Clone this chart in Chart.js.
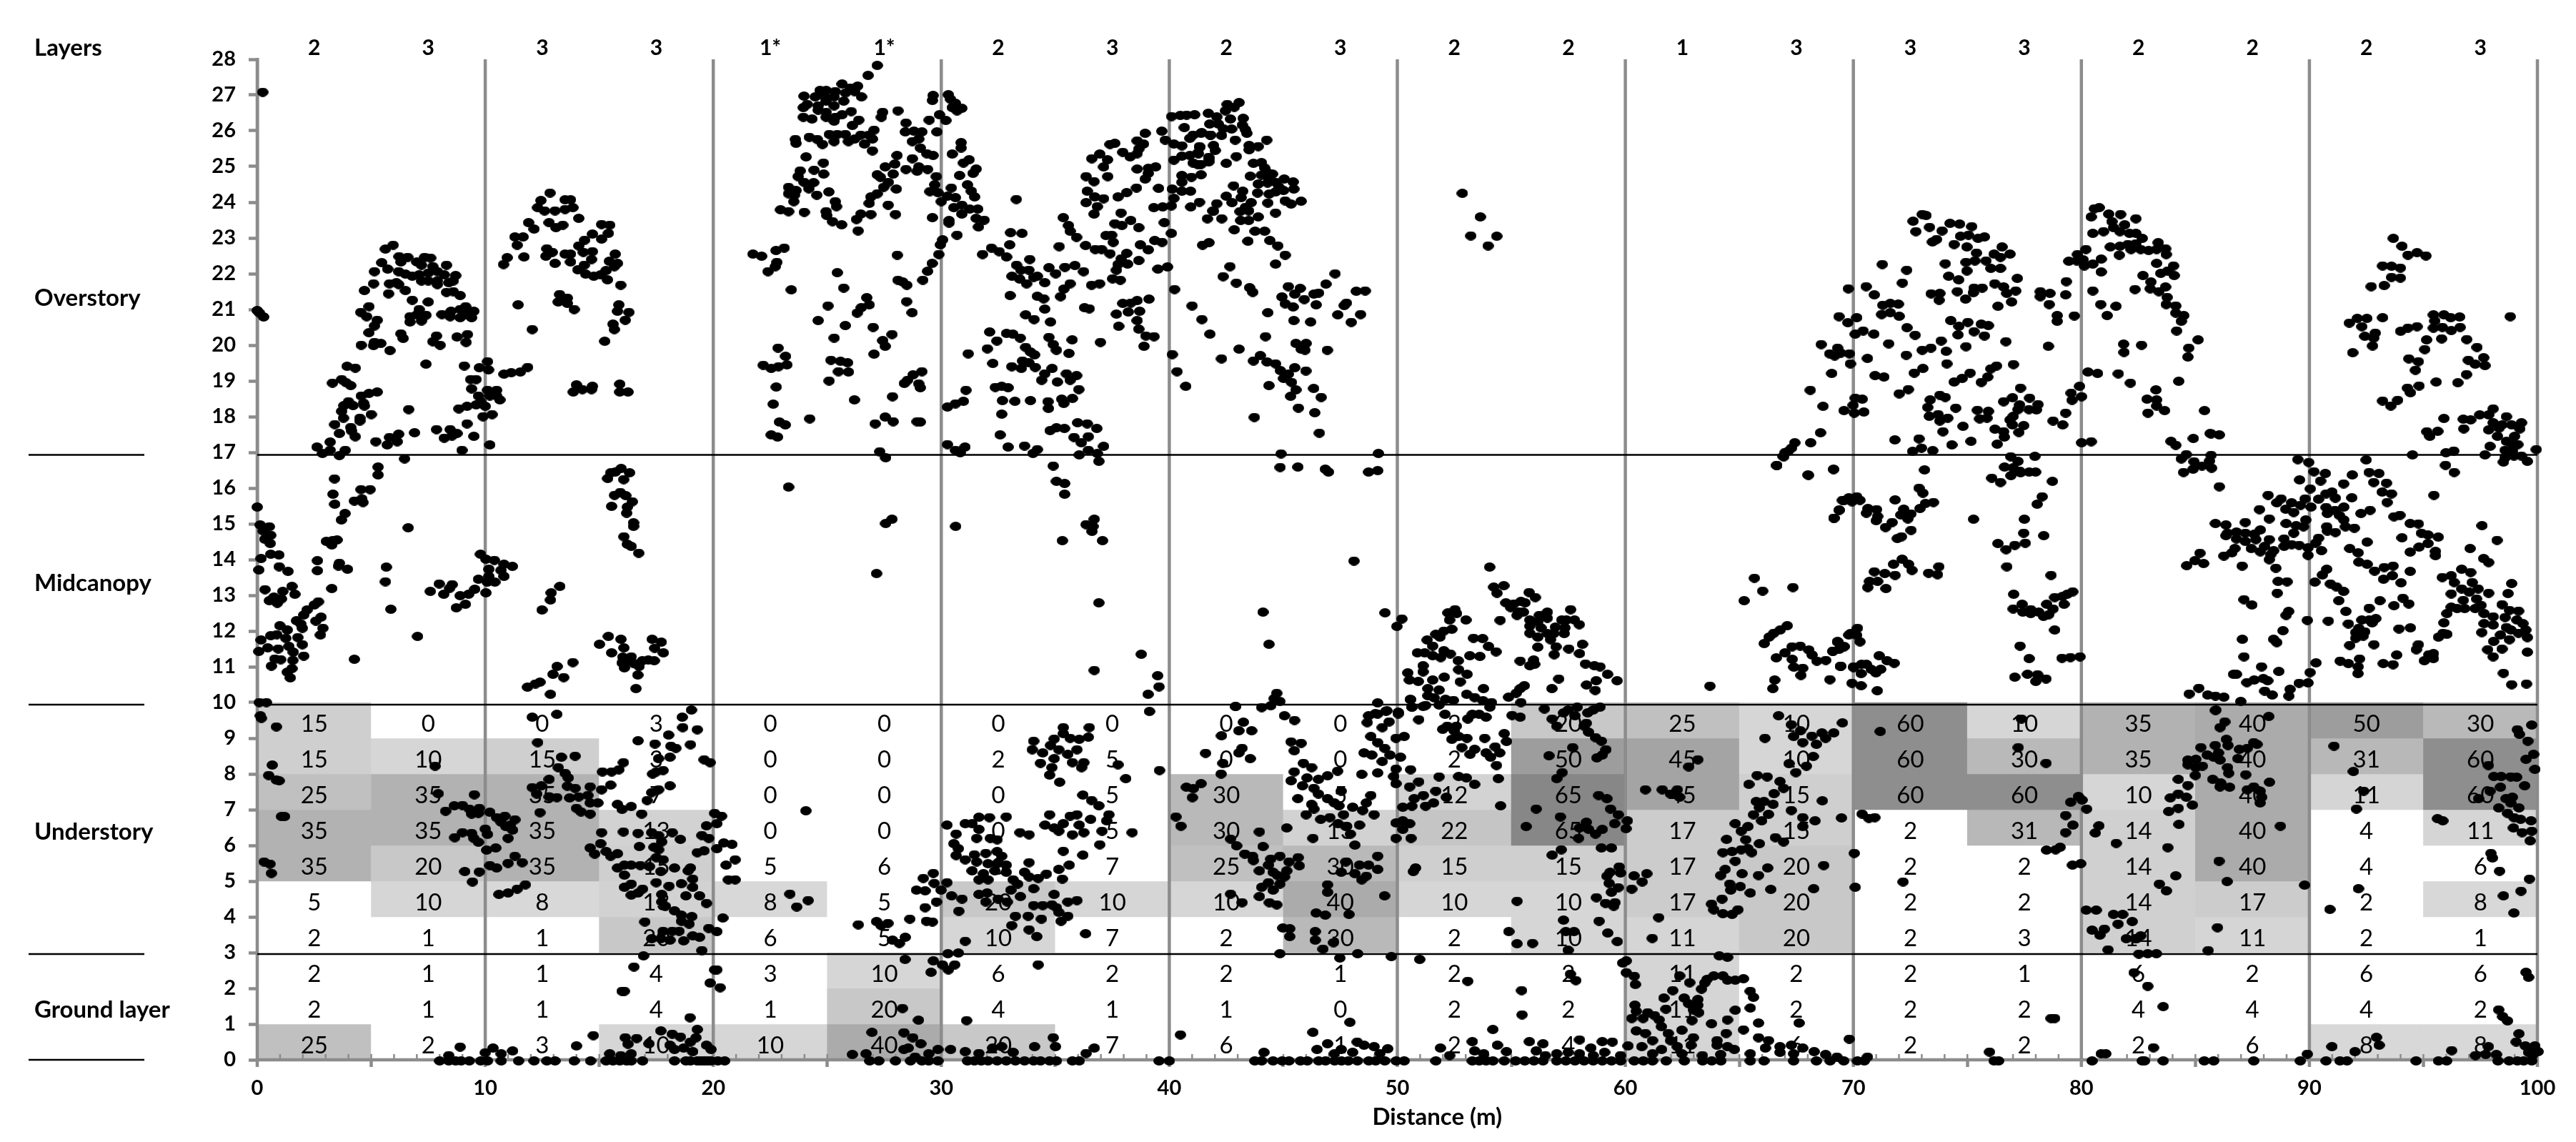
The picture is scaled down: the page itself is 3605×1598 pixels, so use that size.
<!DOCTYPE html>
<html lang="en">
<head>
<meta charset="UTF-8">
<title>Vegetation layers along a 100 m transect</title>
<style>
body { margin: 0; background: white; }
canvas { display: block; }
</style>
</head>
<body>
<canvas id="chart" width="3605" height="1598"></canvas>
<script src="https://cdn.jsdelivr.net/npm/chart.js"></script>
<script>
// layers per 5 m segment, shown along the top
const layerCounts = ['2','3','3','3','1*','1*','2','3','2','3','2','2','1','3','3','3','2','2','2','3'];
const xTicks = [0,10,20,30,40,50,60,70,80,90,100];
const segmentCentres = [2.5,7.5,12.5,17.5,22.5,27.5,32.5,37.5,42.5,47.5,52.5,57.5,62.5,67.5,72.5,77.5,82.5,87.5,92.5,97.5];
const groupNames = ['Overstory','Midcanopy','Understory','Ground layer'];
const groupHeights = [21.32,13.34,6.38,1.4];
const layerBounds = [16.93,9.94,2.96];

// cover per 1 m height class, one row per class, top class first
const cover9to10 = [15,0,0,3,0,0,0,0,0,0,2,20,25,10,60,10,35,40,50,30];
const cover8to9 = [15,10,15,3,0,0,2,5,0,0,2,50,45,10,60,30,35,40,31,60];
const cover7to8 = [25,35,35,7,0,0,0,5,30,5,12,65,45,15,60,60,10,40,11,60];
const cover6to7 = [35,35,35,13,0,0,0,5,30,13,22,65,17,15,2,31,14,40,4,11];
const cover5to6 = [35,20,35,15,5,6,0,7,25,30,15,15,17,20,2,2,14,40,4,6];
const cover4to5 = [5,10,8,13,8,5,20,10,10,40,10,10,17,20,2,2,14,17,2,8];
const cover3to4 = [2,1,1,20,6,5,10,7,2,30,2,10,11,20,2,3,14,11,2,1];
const cover2to3 = [2,1,1,4,3,10,6,2,2,1,2,2,11,2,2,1,6,2,6,6];
const cover1to2 = [2,1,1,4,1,20,4,1,1,0,2,2,11,2,2,2,4,4,4,2];
const cover0to1 = [25,2,3,10,10,40,20,7,6,1,2,4,11,6,2,2,2,6,8,8];
const coverRows = [cover9to10,cover8to9,cover7to8,cover6to7,cover5to6,cover4to5,cover3to4,cover2to3,cover1to2,cover0to1];

// lidar returns as distance,height pairs
const over0to20 = [.24,27.08,0,20.97,.1,20.9,.28,20.79,5.96,22.8,5.62,22.69,5.46,22.31,5.72,22.13,5.14,22.06,6.22,22.48,6.6,22.46,6.3,22.33,7.34,22.46,7.6,22.44,7.2,22.24,7,22.33,7.7,22.2,8.3,22.24,6.2,22.06,6.5,21.99,6.8,21.93,7.1,21.97,7.5,22.02,7.9,22.06,8.2,21.97,8.7,21.95,7.9,21.8,8.4,21.75,8.6,21.8,7.2,21.8,7.5,21.8,7.9,21.7,6.1,21.75,5.8,21.72,6.2,21.7,5.1,21.72,4.7,21.53,5.76,21.44,6.5,21.53,8.3,21.48,8.6,21.5,8.9,21.39,6.8,21.26,7.5,21.21,4.9,21.08,4.54,20.92,4.8,20.8,7.1,21,6.7,20.8,7,20.85,7.4,20.84,7.2,20.68,6.7,20.65,8.1,20.86,8.5,20.95,8.46,20.8,8.9,21,9.14,21.08,8.9,20.77,9.5,20.95,9.4,20.77,9.2,20.86,5.26,20.7,5.14,20.54,4.9,20.35,6.3,20.32,6.4,20.19,7.86,20.26,7.7,20.1,8.02,20,8.76,20.23,9.22,20.3,9.16,20.08,4.56,20,5.1,19.99,5.14,20.08,5.42,20.05,5.82,19.85,7.4,19.47,9.08,19.42,9.74,19.37,10.1,19.54,10.14,19.31,10.82,19.19,11.14,19.23,11.54,19.25,11.86,19.38,3.94,19.41,4.3,19.36,3.3,18.94,3.7,19.04,3.9,18.95,4.1,18.87,5.26,18.69,4.9,18.65,4.56,18.58,4,18.42,3.8,18.31,3.7,18.15,4.2,18.31,4.66,18.38,4.7,18.3,3.78,17.96,4.5,17.96,4.5,17.88,5,18.06,3.4,17.78,4.1,17.7,3.6,17.53,4.14,17.6,4.3,17.44,5.2,17.3,5.7,17.21,5.8,17.42,6.14,17.3,6.2,17.51,6.9,17.55,6.64,18.2,8.84,18.22,9.2,18.29,9.6,18.33,10,18.29,9.9,18,10.3,18.06,9.2,17.8,7.86,17.64,8.46,17.64,8.2,17.4,8.54,17.46,8.76,17.53,9.5,17.45,8.98,17.06,10.2,17.21,9.36,19.04,9.6,19.04,9.4,18.78,9.7,18.58,10.1,18.74,10.5,18.74,10.2,18.58,10.5,18.58,10.64,18.47,9.8,18.42,2.62,17.15,2.86,16.97,3.2,17.29,3.2,17.06,3.6,16.91,3.86,17.06,6.46,16.82,12.84,24.26,12.44,24.05,13.5,24.07,13.74,24.07,12.3,23.85,12.6,23.76,13.06,23.76,13.5,23.8,13.84,23.85,14.1,23.55,11.9,23.43,12.8,23.43,13.4,23.36,13.1,23.29,12.14,23.25,15.1,23.38,15.46,23.36,11.3,23.03,11.66,23.03,11.4,22.8,14.7,23.11,15.4,23.13,15.1,22.97,14.36,22.94,14.1,22.78,12.7,22.7,12.94,22.6,13.5,22.55,13.74,22.55,12.66,22.49,10.96,22.45,11.7,22.47,10.8,22.26,13.06,22.29,13.74,22.33,14.3,22.6,14.7,22.62,14.66,22.4,15.7,22.55,15.44,22.35,15.8,22.29,15.66,22.2,14.34,22.24,14.06,22.11,14.4,21.99,14.76,21.93,15.06,21.97,15.3,22.09,15.36,21.83,15.94,21.68,13.26,21.42,13.6,21.32,13.2,21.21,13.6,21.17,13.9,21,11.44,21.13,15.86,21.13,15.8,20.95,16.3,20.92,16.14,20.7,15.6,20.59,15.66,20.44,12.06,20.44,15.24,20.11,14,18.89,13.86,18.69,14.26,18.76,14.66,18.76,14.7,18.85,15.9,18.91,15.9,18.69,16.26,18.69];
const mid0to20 = [5.3,16.59,5.3,16.37,3.39,16.26,3.32,15.83,4.55,15.96,4.95,15.96,4.26,15.64,4.59,15.7,4.64,15.6,3.4,15.55,0,15.47,3.85,15.29,3.69,15.11,6.62,14.89,.13,14.97,.53,14.92,.26,14.8,.59,14.68,.33,14.57,.57,14.45,3.03,14.51,3.3,14.53,3.5,14.55,3.27,14.41,.59,14.15,.95,14.13,.17,14.03,2.64,13.97,2.64,13.69,3.6,13.9,3.56,13.82,3.96,13.73,5.66,13.79,5.62,13.38,.96,13.8,1.35,13.67,.07,13.71,.34,13.16,1.52,13.25,1.12,13.11,1.65,13.03,3.27,13.19,.53,12.85,.73,12.95,1.06,12.9,.88,12.78,2.68,12.82,2.5,12.73,2.18,12.59,2.04,12.45,2.8,12.39,2.57,12.28,1.72,12.29,1.98,12.08,1.91,12.2,2.88,12.08,2.77,11.89,.99,12.15,1.32,12.03,.86,11.9,.59,11.87,.17,11.75,1.78,11.82,1.25,11.8,1.98,11.62,.07,11.43,.46,11.53,.92,11.5,1.39,11.57,1.58,11.41,2.04,11.3,.77,11.22,1.03,11.2,1.56,11.18,.62,11.02,1.52,10.95,1.32,10.85,1.45,10.69,5.86,12.61,4.26,11.21,7.03,11.85,7.98,13.32,7.59,13.11,8.18,13.03,8.55,13.3,8.44,13.2,8.9,12.99,9.27,13.03,9.54,13.17,10.03,13.07,9.13,12.75,8.73,12.65,9.79,14.15,10.03,14.01,10.4,13.98,10.82,13.87,11.19,13.81,10.16,13.73,10.69,13.7,10.82,13.53,9.7,13.45,10.09,13.37,10.42,13.37,10.16,13.53,13.27,13.25,12.89,13.07,12.86,12.87,12.49,12.59,13.84,11.12,13.15,11.01,12.97,10.79,13.44,10.7,11.85,10.43,12.2,10.52,12.4,10.57,12.86,10.23,15.96,16.55,15.5,16.43,15.7,16.45,16.33,16.43,15.37,16.27,16.07,16.24,15.67,15.8,15.92,15.88,16.16,15.79,16.45,15.62,16.23,15.47,15.54,15.49,16.2,15.3,16.5,15.03,16.5,14.93,16.08,14.64,16.23,14.43,16.4,14.37,16.73,14.18,15.4,11.85,15.95,11.77,15.01,11.63,16.08,11.53,15.54,11.39,17.32,11.77,17.72,11.69,17.43,11.52,17.81,11.39,16.03,11.27,16.4,11.28,16,11.11,16.23,11.17,16.1,10.97,16.49,11.1,16.75,11.01,16.89,11.17,17.15,11.19,17.41,11.17,16.69,10.77,16.61,10.39,.09,10,.4,10];
const under0to20 = [.14,9.63,.18,9.56,.84,9.32,.66,8.25,.5,7.96,.84,7.83,.96,7.81,1.06,6.81,1.2,6.81,.3,5.54,.56,5.48,.62,5.22,7.8,8.22,7.94,7.45,9.52,7.42,8.26,6.96,8.64,7.11,9,7.12,9.3,7.02,9.4,6.88,9.74,7.04,9.7,6.9,10.2,6.93,10.5,6.78,10.86,6.82,10.7,6.65,11.3,6.72,11.1,6.57,11.2,6.43,10.9,6.53,8.66,6.22,9,6.36,9.4,6.34,9.5,6.2,9.7,6.09,10,6.46,10.1,6.31,11,6.2,10.06,5.87,10.46,5.93,11.3,5.7,11.62,5.52,11,5.5,10.5,5.37,10.2,5.44,9.74,5.26,9.1,5.27,9.44,4.98,10.6,4.63,11,4.67,11.4,4.78,11.76,4.9,12.06,9.59,13.14,9.67,12.3,8.88,13.34,8.47,13.94,8.5,13.2,8.18,13.5,8.02,13.64,7.89,12.8,7.85,12.06,7.62,12.46,7.67,12.26,7.44,13.6,7.66,13.94,7.6,12.8,7.36,13.14,7.34,13.7,7.33,12.4,6.92,14,7.04,14.2,6.94,14.6,6.88,14.1,7.36,14.5,7.4,14.6,7.64,14.94,7.19,14.6,7.19,15.1,7.56,15.5,7.69,15.14,8.06,15.54,8.06,15.86,8.12,16.06,8.32,15.8,7.15,16,7.01,16.4,7.09,15.1,6.36,16.06,6.38,16.7,8.93,17.44,8.84,18.04,9.09,18.64,9.59,19.04,9.79,18.66,9.3,19.3,9.24,19,8.82,18.14,8.78,18.36,8.72,17.6,8.43,18.1,8.47,17.8,8.1,17.34,8,17.5,8.06,17.3,7.48,17.6,7.56,18.1,7.67,17.1,7.26,16.86,6.88,19.6,8.4,19.86,8.32,20.06,6.9,16.7,6.34,17.3,6.36,17.6,6.28,18.2,6.36,18.56,6.17,16.76,5.97,17.4,5.95,17.74,6.1,17.6,5.88,19.7,6.55,19.5,6.28,19.8,6.2,19.3,5.8,19.6,5.85,14.6,5.93,15.06,6.05,14.8,5.76,15.3,5.83,15.5,5.7,15.8,5.77,17.5,5.66,17.8,5.6,15.8,5.37,16.1,5.45,16.4,5.45,16.8,5.44,17.2,5.41,17.7,5.27,18.3,5.37,18.9,5.29,19,5.37,16.1,5.17,19.1,5.06,17.5,4.96,18.6,4.93,18.06,4.86,19.1,4.83,16.4,4.92,16.1,4.83,16.9,4.78,16.4,4.61,16.7,4.67,17.74,4.63,18.8,4.59,19.4,4.59,19.7,4.38,17.74,4.42,17.9,4.3,18.3,4.17,18.6,4.05,19.06,4.01,18.6,3.88,18.94,3.8,17,3.86,19.8,3.68,17.8,3.6,18.2,3.6,18.5,3.6,17.7,3.39,18.1,3.35,17.3,3.39,18.7,3.33,19.1,3.47,19.4,3.43,19.5,3.06,16.94,2.91,16.52,2.6,16,1.92,16.1,1.92,20.06,2.52,19.86,2.15,18.98,1.18,17.7,.81,14.74,.68,16.14,.62,16.64,.6,16.26,.44,14,.39,17.18,.45,18.2,.72,18.56,.64,19.3,.85,19.24,.62,19,.5,18.1,.41,18.3,.29,18.7,.33,19.7,.41,19.9,.29,19.1,.23,8.9,.36,8.4,.12,10.34,.33,11.2,.25,10.7,.17,10,.2,15.46,.17,15.94,.12,16.4,.17];
const over20to42 = [27.19,27.83,26.79,27.55,25.65,27.31,26.33,27.25,26,27.2,24.68,27.13,24.95,27.13,25.35,27.1,23.98,26.97,24.47,26.95,24.9,26.95,25.3,26.95,25.8,27.06,26.2,27.1,26.5,26.95,25.72,26.83,25.3,26.7,24.95,26.83,24.6,26.7,24.12,26.74,23.95,26.65,24.6,26.58,24.95,26.52,24.95,26.38,23.95,26.38,24.33,26.33,25.3,26.27,25.35,26.38,25.65,26.45,26.05,26.54,26.38,26.3,26.1,26.15,27.05,26.02,26.82,25.88,26.98,25.77,25.09,25.9,25.44,25.9,25.79,25.9,26.47,25.88,26.2,25.77,25.93,25.7,26.63,25.63,25.3,25.7,24.21,25.82,24.56,25.76,24.79,25.62,23.6,25.76,23.63,25.65,26.98,25.44,24.07,25.27,24.83,25.1,24.42,24.9,24.84,24.79,23.81,24.88,23.72,24.72,23.98,24.56,24.4,24.55,24.19,24.38,23.3,24.42,23.63,24.33,23.3,24.24,23.56,24.2,24.54,24.2,25.07,24.29,23.53,24.02,25.35,24.02,25.4,23.88,22.95,23.79,23.3,23.74,23.99,23.72,24.95,23.74,24.98,23.63,25.23,23.46,25.63,23.37,26.35,23.2,26.28,23.52,26.47,23.67,26.91,23.66,26.84,23.97,26.91,24.15,27.19,24.24,27.47,24.42,27.68,24.56,27.19,24.77,27.33,24.7,28.03,24.37,27.67,23.92,27.99,23.66,27.54,24.99,27.96,25.07,27.89,24.79,28.06,25.31,28.45,24.92,28.73,25.22,28.94,24.87,29.01,24.99,29.4,24.92,29.78,24.72,29.71,24.49,29.5,24.3,30,24.02,29.85,24.27,30.44,24.4,30.27,24.17,30.62,24.13,29.61,23.57,30.34,23.49,30.34,23.42,30.69,23.08,30.55,23.85,30.9,23.92,30.9,23.67,31.25,23.81,31.6,23.81,31.53,23.55,31.88,23.5,31.63,23.31,31.15,24.49,31.32,24.31,31.46,24.15,30.8,24.75,31.39,24.81,31.53,24.93,30.97,25.1,31.22,25.19,30.48,25.35,30.87,25.67,30.87,25.52,29.64,25.31,29.36,25.36,29.08,25.52,29.01,25.77,28.73,25.7,29.15,25.97,28.8,25.99,28.42,25.97,28.45,26.22,29.81,25.97,29.47,26.3,29.92,26.45,30.2,26.29,28.1,26.56,27.43,26.52,27.37,26.38,29.64,26.99,29.61,26.85,30.31,27.01,30.41,26.88,30.62,26.77,30.48,26.65,30.69,26.56,30.9,26.63,21.74,22.55,22.12,22.49,22.75,22.65,23.11,22.72,22.79,22.32,22.72,22.2,22.4,22.06,25.44,22.03,23.42,21.55,25.72,21.6,26.73,21.33,26.84,21.13,26.49,21.05,26.31,20.9,25.03,21.1,24.6,20.69,25.79,20.55,27.01,20.5,27.84,20.3,27.43,20.13,27.54,19.97,27.05,19.75,25.3,20.2,28.07,22.52,29.89,22.54,29.96,22.81,30.06,22.95,29.6,22.29,29.4,22.07,29.19,21.82,28.1,21.82,28.31,21.77,28.49,21.68,28.48,21.22,28.72,20.91,22.84,19.92,23.17,19.69,23.23,19.45,22.86,19.4,22.54,19.35,22.19,19.44,22.76,18.83,22.63,18.35,22.9,17.85,23.16,17.77,22.54,17.49,22.82,17.43,24.23,17.94,25.16,19.58,25.58,19.55,25.89,19.51,25.49,19.26,25.93,19.25,25.08,19,26.19,18.47,27.86,18.56,27.54,17.99,27.1,17.8,27.89,17.86,28.94,17.86,29.08,17.85,27.3,17.02,29.15,19.26,28.76,19.17,28.52,19.02,28.38,18.93,29.01,18.92,29.08,18.81,30.27,18.27,30.62,18.36,30.97,18.43,31.08,18.74,31.18,19.76,30.27,17.22,31.04,17.15,30.62,17.06,30.83,16.99,32.02,19.9,32.12,20.37,32.44,20.12,32.86,20.33,33.14,20.31,33.46,20.2,32.26,19.49,33.09,19.4,33.56,19.56,33.51,19.35,33.84,19.51,34.12,19.38,33.7,19.94,33.91,19.81,34.09,19.73,34.72,20.22,34.91,20.02,35.05,19.86,35.74,20.15,35.6,19.77,36.98,20.08,34.86,19.35,34.54,19.2,34.4,19.02,35.09,18.97,35.49,19.2,35.93,19.15,35.65,19.02,36.03,18.76,32.37,18.82,32.65,18.85,32.93,18.81,32.68,18.45,33.23,18.43,33.91,18.45,34.68,18.42,34.7,18.23,35.28,18.49,35.37,18.37,35.75,18.51,32.65,18.07,32.58,17.49,32.93,17.15,33.65,17.18,34.21,17.08,34.02,16.97,34.77,17.61,35.05,17.69,35.4,17.67,35.98,17.83,36.4,17.8,36.82,17.67,35.82,17.42,36.45,17.44,36.14,17.27,36.45,17.06,37.12,17.17,36.05,16.93,36.84,16.97,31.81,22.54,32.2,22.72,32.54,22.62,32.86,22.47,33,22.81,33.04,23.15,33.54,23.13,33.29,24.08,33.88,22.4,33.3,22.24,33.49,22.1,33.84,22.1,33.1,21.93,33.44,21.85,33.74,21.72,34.21,21.93,34.05,21.9,34.72,22.17,35.02,22,35.42,22.18,35.86,22.23,36.24,22.06,34.54,21.75,35.65,21.72,35.37,21.57,35.23,21.36,33.02,21.39,34.21,21.37,34.49,21.3,34.54,21.01,33.7,20.85,34.07,20.72,34.79,20.65,36.28,21.05,36.49,21.02,36.59,21.68,36.94,21.72,37.51,21.86,37.85,21.82,37.68,20.87,37.96,21.17,38.31,21.18,38.59,21.25,38.2,20.93,39.11,21.29,38.7,20.95,38.59,20.69,37.78,20.53,38.66,20.45,38.97,20.26,39.33,20.24,38.89,19.97,35.35,23.57,35.58,23.35,35.65,23.19,35.93,23.02,35.17,22.76,36.33,22.79,36.75,22.68,37.03,22.68,37.4,22.56,37.22,23.07,37.47,23.08,37.54,22.88,38.13,22.57,37.89,22.42,38.17,22.27,37.75,22.26,37.68,22.1,38.66,22.37,39.5,22.13,39.92,22.19,38.73,22.81,39.08,22.67,39.36,22.93,39.68,22.88,40.09,23.13,39.78,23.43,38.66,23.29,38.31,23.49,37.61,23.4,37.92,23.35,37.88,23.7,36.7,23.67,36.84,23.88,36.35,23.99,36.73,24.15,37.12,24.1,36.4,24.31,37.75,24.15,38.13,24.27,38.56,24.4,39.53,24.39,36.35,24.72,36.7,24.58,37.3,24.72,38.59,24.93,39.08,24.95,39.4,24.99,38.94,24.65,39.08,24.81,36.6,25.22,36.95,25.35,37.29,25.19,37.12,24.99,37.4,25.62,37.61,25.65,37.96,25.4,38.28,25.27,38.59,25.36,38.66,25.49,38.59,25.72,38.87,25.63,38.94,25.93,39.67,25.99,39.82,25.74,40.2,25.63,40.55,25.58,40.1,26.4,40.48,26.43,40.76,26.44,41.11,26.45,40.66,26.09,41.71,26.49,41.77,26.19,40.2,25.18,40.55,25.29,40.9,25.31,41.25,25.38,41.32,25.56,41.04,25.88,41.39,25.93,40.9,25.79,41.81,25.88,41.04,25.1,41.39,25.06,41.74,25.2,40.55,24.75,40.97,24.7,41.39,24.77,40.55,24.56,40.13,24.37,40.55,24.31,40.93,24.31,40.2,24.11,39.32,23.85,39.71,23.87,40.09,23.9,40.94,23.87,41.32,24,41.91,23.76,41.67,23.54,41.46,22.8,41.74,22.87,40.23,21.56,41,21.1,41.43,20.72,41.78,20.31,40.13,19.74,40.34,19.26,40.72,18.85];
const over42to55 = [43.06,26.79,42.54,26.74,42.85,26.66,42.46,26.56,42.08,26.39,42.68,26.33,43.24,26.35,42.15,26.19,43.2,26.16,42.36,26.06,42.73,26.05,43.34,26.03,43.4,25.93,41.42,25.95,41.8,25.88,42.29,25.87,42.89,25.74,44.27,25.74,43.5,25.59,43.5,25.47,43.9,25.56,41.94,25.59,42.01,25.45,41.34,25.54,41.28,25.36,42.94,25.28,41.73,25.26,42.5,25.09,41.73,25.13,41.24,25.06,43.69,25.09,44.04,25.11,44.18,24.96,44.25,24.86,44.04,24.76,43.55,24.73,44.52,24.79,44.38,24.66,43.9,24.51,44.31,24.54,45.04,24.65,45.43,24.57,44.66,24.56,44.8,24.43,45.46,24.37,45.01,24.33,43.87,24.26,44.38,24.23,44.66,24.29,42.82,24.46,43.22,24.31,42.5,24.17,43.15,24.13,42.75,23.99,45.08,24.04,45.34,23.95,45.78,24.03,44.32,23.98,43.59,23.99,43.34,23.86,43.1,23.74,43.48,23.76,44.66,23.7,43.9,23.59,43.13,23.49,43.48,23.49,42.08,23.96,41.94,23.75,42.3,23.54,42.85,23.23,43.76,23.19,44.18,23.19,43.45,22.91,44.41,22.93,44.76,22.78,45.08,22.52,44.66,22.27,42.66,22.2,42.36,21.92,42.94,21.74,43.52,21.61,43.66,21.48,44.32,20.91,44.22,20.24,45.22,21.64,45.74,21.59,45.5,21.43,44.94,21.35,45.08,21.16,45.43,21.07,45.92,21.28,46.34,21.43,46.55,21.46,46.44,21.13,46.87,21.71,47.27,22,48.2,21.51,48.59,21.52,47.77,21.18,47.67,21.11,47.39,20.85,48.39,20.86,47.98,20.64,45.46,20.69,46.2,20.65,45.55,20.05,46,20.05,45.78,19.89,45.95,19.86,46.93,19.86,43.06,19.89,42.29,19.62,43.99,19.71,43.69,19.56,44.29,19.53,44.66,19.48,45.5,19.37,44.87,19.29,45.22,19.19,45.99,19.28,45.01,19.07,45.36,18.96,44.37,18.87,45.55,18.75,45.32,18.57,46.33,18.79,46.66,18.54,45.66,18.24,46.38,18.11,43.73,17.98,46.58,17.54,44.9,16.96,49.17,16.97,52.85,24.25,53.64,23.59,53.22,23.06,54.36,23.05,53.98,22.78];
const mid20to50 = [23.3,16.03,27.56,16.85,27.84,15.13,27.56,15.01,27.16,13.61,30.63,14.93,34.91,16.62,35.05,16.19,35.41,16.13,35.41,15.83,36.91,16.75,36.71,15.13,36.35,14.98,36.65,14.93,36.61,14.79,35.31,14.53,37.07,14.53,36.91,12.79,38.77,11.35,36.71,10.9,39.49,10.75,39.55,10.44,39.07,10.23,44.86,16.58,45.64,16.59,46.84,16.53,46.98,16.45,48.74,16.45,49.14,16.49,48.1,13.96,44.11,12.53,44.37,11.63,49.46,12.51,50.2,12.34,49.98,12.13,42.9,9.89,44.05,9.86,44.45,9.91,44.71,10.26,44.6,10.11,44.85,10.03,49.14,9.99,50.04,9.73,49.5,9.76,49.04,9.69];
const mid50to70 = [54.05,13.79,54.23,13.23,54.67,13.27,54.37,13.06,55.78,13.08,56.05,12.94,54.76,12.79,55.11,12.76,55.42,12.83,55.6,12.79,54.97,12.66,55.32,12.54,55.53,12.53,55.25,12.44,57.6,12.6,52.53,12.6,52.22,12.51,52.6,12.49,52.29,12.31,53.01,12.31,54.51,12.3,55.81,12.31,56.23,12.44,56.58,12.53,56.58,12.36,56.16,12.26,57.21,12.31,57.42,12.31,57.77,12.31,57.98,12.18,55.81,12.14,56.3,12.09,56.93,12.11,57.35,12.09,55.81,11.94,56.16,11.83,56.58,11.93,56.86,11.93,57.32,11.93,56.72,11.76,56.96,11.56,56.16,11.55,58.12,11.63,57.52,11.5,56.88,11.34,57.99,11.37,52.39,12.05,52.04,12,51.69,11.91,51.87,11.83,51.31,11.75,51.55,11.58,53.34,11.8,53.74,11.79,54,11.57,54.33,11.42,50.88,11.39,51.2,11.39,51.55,11.31,52.04,11.45,51.9,11.26,52.32,11.36,53.18,11.31,53.62,11.29,52.67,11.17,51.13,11.03,51.13,10.86,50.46,10.83,50.53,10.63,50.92,10.59,52.69,10.92,53.06,10.79,51.55,10.63,52.06,10.71,52.76,10.58,53.78,10.39,51.34,10.39,51.83,10.35,51.34,10.19,51.62,10.13,50.57,10.09,52.11,10.09,52.46,10.06,53.04,10.23,53.39,10.14,53.76,10.05,54.13,10,54.88,10.15,55.39,10.39,55.57,10.47,55.21,10.26,55.42,10,55.39,11.16,55.81,11.03,55.98,11.19,56.02,11.07,58.25,11.08,58.64,11.03,58.89,11,59.22,10.79,59.64,10.61,57.08,10.66,56.78,10.39,58.3,10.49,58.72,10.61,58.68,10.34,51.83,9.93,51.13,9.89,50.64,9.87,54.06,9.87,65.66,13.48,66.02,13.12,67.35,13.22,65.21,12.85,67.1,12.15,66.79,12.03,66.51,11.94,66.3,11.83,66.09,11.65,66.62,11.25,67,11.39,67.31,11.56,67.67,11.58,68.05,11.47,68.19,11.33,68.4,11.16,68.79,11.18,67.32,11.21,67.39,10.99,67.78,10.96,67.7,10.76,66.55,10.63,66.47,10.39,63.71,10.46,68.97,10.64,69.43,11.01,69.1,11.43,69.31,11.71,69.59,11.56,69.38,11.49,69.8,11.89,69.98,11.93,70.01,11,69.94,10.54,66.64,16.63,66.95,16.88,67.14,17.03,68.01,16.37,69.13,16.53,69.59,15.65,69.94,15.65,69.8,15.73,69.38,15.39,69.15,15.16];
const over67to80 = [73.02,23.66,73.19,23.63,72.62,23.47,73.34,23.3,72.74,23.18,74.24,23.41,74.66,23.39,75.19,23.32,73.89,23.2,73.65,22.96,73.47,22.89,74.7,23.05,75.05,23.08,75.47,22.99,75.75,23.03,74.42,22.82,74.98,22.75,76.52,22.75,75.4,22.58,76.17,22.55,76.87,22.55,76.45,22.46,74.03,22.28,74.94,22.32,75.33,22.36,75.82,22.36,76.03,22.15,76.45,22.15,74.98,22.08,74.18,21.93,74.62,21.83,71.27,22.26,72.34,22.1,72.15,21.74,77.19,21.87,69.78,21.58,70.56,21.64,70.92,21.41,73.41,21.44,73.79,21.45,73.76,21.26,74.56,21.5,74.92,21.29,75.29,21.6,75.65,21.6,75.26,21.47,76.2,21.72,76.59,21.63,76.73,21.45,77.12,21.52,76.34,21.09,76.94,21.21,71.29,21.12,71.62,21.17,71.97,21.15,71.24,20.86,71.62,20.91,72.01,20.81,69.37,20.8,70.15,20.77,69.76,20.63,72.35,20.49,72.71,20.28,70.08,20.31,70.43,20.4,70.9,20.31,74.27,20.69,75.02,20.64,75.61,20.59,75.92,20.55,74.63,20.53,74.59,20.29,75.29,20.38,75.75,20.26,68.59,20.02,69.31,19.92,68.96,19.76,69.18,19.7,69.45,19.78,69.83,19.76,71.55,20.04,73.85,20.12,73.4,19.92,73.02,19.86,74.07,19.83,74.94,19.96,76.69,20.1,72.32,19.72,70.62,19.63,69.87,19.48,74.1,19.48,77.02,19.46,76.28,19.42,76.03,19.34,73.05,19.35,72.67,19.22,69.05,19.21,70.95,19.15,71.34,19.11,75.12,19.22,74.77,19.07,74.42,18.97,75.89,19.11,75.61,18.96,68.11,18.74,68.67,18.29,72.01,18.64,72.41,18.76,70.08,18.52,70.39,18.49,69.99,18.32,69.59,18.17,70.04,18.1,70.46,18.13,73.79,18.6,74.03,18.54,73.37,18.47,73.26,18.26,74.49,18.24,73.33,18.01,73.72,18.06,74.14,17.96,73.79,17.88,75.44,18.18,75.92,18.15,75.54,17.94,75.86,17.96,77.33,18.8,76.98,18.53,76.59,18.42,77.73,18.52,77.29,18.33,78.1,18.34,77.7,18.2,78.03,18.19,77.22,18.2,77.01,18.01,76.87,17.91,76.98,17.77,77.47,17.75,74.81,17.73,73.93,17.58,76.21,17.65,76.59,17.58,76.62,17.43,77.26,17.56,71.82,17.35,72.88,17.38,74.32,17.21,75.16,17.31,76.31,17.23,72.99,17.12,72.6,17.03,73.48,17.05,68.56,17.55,68.13,17.27,67.43,17.27,67.29,17.12,67.01,17,66.92,16.89,66.64,16.64,68.03,16.36,69.13,16.52,73.12,16.51,78.2,21.5,78.62,21.45,78.2,21.36,79.34,21.78,79.31,21.41,78.59,21.14,78.94,20.83,78.94,20.67,79.69,20.82,78.55,19.97,79.92,18.85,79.55,18.66,80.01,18.56,79.59,18.46,79.31,18.1,78.76,17.88,79.18,17.77,80.01,17.27,80.43,17.3];
const over80to90 = [80.78,23.85,80.43,23.59,80.57,23.82,81.2,23.67,81.72,23.66,82.39,23.54,81.34,23.46,81.9,23.37,80.5,23.13,80.97,23.18,81.41,23.29,81.69,23.18,82.11,23.13,82.39,23.13,82.67,22.99,80.2,22.68,79.83,22.54,79.45,22.35,79.8,22.36,80.08,22.39,80.13,22.22,80.5,22.27,80.87,22.41,81.27,22.75,81.69,22.77,82.04,22.82,82.39,22.84,82.18,22.68,82.6,22.68,82.95,22.65,83.3,22.68,83.37,22.87,83.69,22.7,83.72,22.54,81.66,22.52,83.3,22.29,84.04,22.22,83.79,22.08,83.48,22.01,84.07,21.95,80.87,22.05,82.7,21.95,83.05,21.77,83.02,21.58,83.69,21.63,83.4,21.5,82.35,21.56,80.5,21.52,83.76,21.34,83.72,21.14,84.14,21.1,80.85,21.14,81.52,21.09,81.13,20.83,84.14,20.9,84.49,20.83,84.38,20.67,84.18,20.4,85.12,20.15,84.71,19.92,84.67,19.67,81.85,20.03,81.87,19.8,82.64,20,80.29,19.25,80.71,19.21,81.62,19.2,82.15,18.94,84.27,18.99,83.27,18.75,82.88,18.49,83.3,18.47,83.3,18.3,83.65,18.17,82.92,18.1,85.4,18.17,83.93,17.31,84.14,17.2,84.91,17.39,85.65,17.53];
const mid67to85 = [76.9,16.88,77.96,16.89,77.22,16.75,76.63,16.59,77.01,16.57,77.29,16.48,76.91,16.35,77.33,16.43,77.71,16.45,77.99,16.45,76.07,16.28,76.45,16.16,78.73,16.19,78.28,15.76,78.06,15.55,77.5,15.13,77.47,14.74,78.35,14.67,76.34,14.45,77.08,14.4,77.54,14.46,76.7,14.28,76.73,13.8,78.67,13.56,75.27,15.13,72.88,16,73.05,15.86,71.83,15.67,73.51,15.6,73.16,15.57,72.92,15.43,69.52,15.66,69.87,15.69,70.15,15.76,69.94,15.62,70.29,15.66,69.38,15.38,69.15,15.16,70.64,15.43,71.02,15.4,70.57,15.3,71.06,15.21,71,15.09,72.21,15.41,72.53,15.28,72.08,15.25,72.39,15.14,71.7,15.04,71.41,14.9,72.53,14.82,72.11,14.64,71.93,14.59,72.14,14.01,72.42,13.87,71.76,13.87,72.57,13.7,70.92,13.66,71.38,13.61,71.83,13.56,73.3,13.62,73.75,13.8,73.69,13.58,70.71,13.39,71.06,13.39,70.63,13.22,71.43,13.19,77.03,13.03,79.62,13.1,79.38,13.03,78.83,12.94,79.17,12.97,78.48,12.75,78.76,12.62,79.24,12.75,77.4,12.75,77.01,12.62,77.43,12.53,77.78,12.6,77.78,12.49,78.13,12.53,78.34,12.41,78.57,12.46,78.83,12.03,77.31,11.58,77.71,11.23,79.15,11.24,79.52,11.26,79.94,11.28,77.08,10.71,77.64,10.79,78.08,10.78,78.45,10.66,78,10.59,85.2,14.18,84.98,13.97,85.36,13.89,84.62,13.83,85.15,10.4,84.73,10.24,85.54,10.21,70.18,12.08,69.87,11.93,70.15,11.88,70.29,11.7,69.31,11.69,69.59,11.57,69.1,11.44,71.13,11.31,71.48,11.17,71.79,11.1,70.57,11.07,70.36,11.07,70.01,10.98,70.78,10.93,70.34,10.81,70.99,10.83,71.2,10.93,69.45,11.02,70.34,10.47,71.05,10.33];
const mid85to100 = [85.69,17.52,86.05,17.49,84.6,16.94,84.38,16.82,85.69,16.92,84.94,16.74,85.62,16.76,84.9,16.53,85.29,16.62,84.48,16.44,85.71,16.56,86.05,16.04,89.49,16.8,89.97,16.72,89.57,16.23,90.04,15.98,88.19,15.8,88.76,15.7,88.57,15.59,89.22,15.59,89.81,15.7,89.61,15.52,90.07,15.47,88.96,15.41,89.31,15.32,87.81,15.4,88.24,15.14,89.84,15.11,88.98,15.01,89.42,14.95,89.74,14.92,85.88,15.01,86.34,14.97,87.19,15.04,87.85,14.83,86.41,14.74,86.8,14.77,87.19,14.74,87.58,14.71,86.34,14.67,86.8,14.58,87.19,14.51,87.65,14.56,88.24,14.56,89.31,14.74,88.89,14.58,88.04,14.37,87.45,14.31,87.85,14.22,86.73,14.31,86.6,14.19,86.25,14.1,88.43,14.25,88.89,14.37,89.22,14.42,89.55,14.4,89.94,14.33,89.94,14.12,88.24,14,88.3,14.14,88.53,13.76,87.05,13.82,88.63,13.39,89.02,13.38,88.59,13.06,87.13,12.88,87.48,12.73,89.09,12.55,88.98,12.44,89.91,12.3,88.84,12.01,87.06,11.77,88.43,11.77,88.57,11.68,87.13,11.28,87.9,11,88.66,10.87,86.67,10.79,86.8,10.79,87.26,10.56,87.58,10.63,87.98,10.67,88.17,10.61,88.04,10.32,88.37,10.21,86.99,10.03,85.88,10.18,86.25,10.15,89.15,10.37,89.1,10.18,89.55,10.54,89.94,10.55,90.03,10.84,90.29,11.11,85.88,9.78,90.2,16.46,90.7,16.41,90.49,16.2,91.88,16.37,92.49,16.79,92.62,16.44,93.05,16.41,92.82,16.16,93.38,16.14,91.5,16.12,93.19,15.89,93.6,15.84,93.41,15.6,90.4,15.69,90.73,15.84,90.99,15.89,91.14,15.72,91.86,15.73,90.73,15.46,90.79,15.29,91.12,15.38,91.51,15.47,91.31,15.24,91.51,15.11,92.26,15.29,92.66,15.38,93.71,15.2,93.97,15.24,91.58,14.92,91.97,14.88,90.76,14.92,90.79,14.8,91.14,14.76,94.42,15.01,94.78,15,94.91,14.74,95.2,14.69,95.65,14.63,94.06,14.61,95.2,14.45,94.81,14.35,94.42,14.21,95.53,14.23,95.53,14.11,92.53,14.49,90.4,14.6,90.27,14.46,90.53,14.25,91.77,14.31,92.14,14.19,92.17,13.93,92.53,13.87,92.86,13.68,93.28,13.78,93.67,13.82,93.25,13.45,93.64,13.55,94.42,13.67,94.02,13.35,90.76,13.73,90.57,13.57,90.24,13.37,90.92,13.32,91.18,13.24,91.5,13.11,91.29,12.85,91.6,12.55,90.83,12.28,93.09,12.85,94.1,12.92,94.36,12.76,93.71,12.71,92.62,12.64,92.3,12.31,92.62,12.31,92.91,12.35,92.75,12.23,91.71,12.2,92.17,12.08,92.03,11.96,92.43,11.98,92.36,11.86,92.03,11.8,93.93,12.06,94.43,12.09,91.77,11.6,92.83,11.62,94.78,11.62,94.69,11.48,93.83,11.33,92.2,11.22,91.35,11.16,91.71,11.09,92.14,11,92.13,10.81,93.24,11.09,93.67,11.06,95.44,11.37,95.24,11.34,95.44,11.23,95.04,11.17,95.86,11.94,95.66,11.83,96.03,11.91,95.9,12.23,96.03,12.49,96.22,12.67,96.48,12.63,96.81,12.63,95.83,13.5,96.22,13.55,96.68,13.73,97.07,13.64,96.35,13.36,96.68,13.18,96.22,13.04,97.14,13.36,97.4,13.18,97.86,13.06,97.01,13.09,96.75,12.86,97.33,12.9,97.53,12.72,97.27,12.63,97.66,12.49,98.45,12.74,99.17,12.56,98.77,12.58,98.06,12.4,97.66,12.21,98.06,12.17,98.58,12.38,99.1,12.31,99.36,12.21,99.49,12.03,98.64,12.1,98.84,12.03,98.38,11.89,98.77,11.76,99.17,11.94,97.56,11.96,99.56,11.82,98.08,11.71,97.82,11.48,98.45,11.5,98.06,11.28,99.56,11.41,98.51,10.82,98.87,10.5,99.52,10.52,97.57,14.95,98.23,14.54,97.05,14.31,97.64,14.03,97.86,13.92,98.87,13.33,98.71,13.05,95.46,15.8,95.97,16.64,96.35,16.44];
const over90to100 = [93.68,22.99,94.06,22.77,94.32,22.52,94.72,22.59,95.11,22.5,93.21,22.22,93.6,22.21,93.99,22.16,93.6,21.9,93.99,21.88,93.28,21.67,92.71,21.64,95.44,20.85,95.9,20.85,96.2,20.77,96.59,20.79,98.81,20.8,91.75,20.62,92.1,20.75,92.52,20.75,93.21,20.77,92.3,20.52,95.5,20.68,95.44,20.48,95.83,20.5,96.22,20.41,96.61,20.5,94.72,20.52,94.32,20.48,94,20.39,92.89,20.34,92.43,20.25,92.82,20.2,92.77,19.98,91.9,19.79,95.14,20.15,95.8,20.18,96.9,20.16,95.06,19.88,97.35,19.94,94.36,19.62,94.78,19.54,94.65,19.3,96.97,19.58,97.27,19.47,97.64,19.65,97.7,19.43,96.89,19.18,95.56,18.97,96.51,18.95,94.81,18.86,94.3,18.8,94.43,18.67,93.21,18.44,93.87,18.46,93.57,18.3,98.06,18.22,95.9,17.95,96.75,17.93,97.07,17.91,97.47,18.05,97.86,18.05,98.64,18,99.3,17.83,98.06,17.83,98.45,17.77,97.86,17.63,98.32,17.68,98.87,17.77,99.23,17.66,96.77,17.66,95.15,17.58,95.63,17.59,95.28,17.45,98.25,17.45,98.64,17.31,99,17.45,97.92,17.17,98.91,17.22,99.14,17.22,96.33,17.04,95.99,16.99,98.58,17.06,98.91,17.04,97.7,16.93,94.52,16.93,99.95,17.08,98.58,16.85,98.97,16.9,99.3,16.9,98.51,16.73,99.56,16.75];
const under20to50 = [20.36,6.82,20.16,6.61,20.46,6.07,20.82,6.03,20.16,5.91,20.96,5.6,20.56,5.45,20.66,5.04,20.96,5.04,20.42,3.97,20.16,3.59,20.16,2.52,20.3,2.02,24.06,6.97,23.36,4.64,24.16,4.46,23.66,4.28,26.36,3.78,27.16,3.87,27.66,3.82,27.36,3.76,28.42,3.43,27.86,3.35,28.16,3.26,28.62,3.94,29.35,3.88,29.61,3.86,29.29,4.26,29.79,4.42,28.91,4.75,29.29,4.73,29.99,4.75,29.21,5.08,29.65,5.22,29.69,4.94,30.25,4.96,30.45,4.59,30.91,4.5,30.77,4.16,30.25,6.57,30.29,2.97,30.75,2.99,28.41,2.81,29.65,2.77,30.05,2.66,30.59,2.66,30.31,2.52,29.55,2.45,31.05,3.32,28.3,1.44,29,1.11,31.11,1.1,26.96,.77,28.36,.76,28.75,.62,28.55,.33,29.1,.45,26.1,.15,26.7,.17,28.36,.29,28.85,.08,29.85,.29,29.45,.17,30.41,.29,31.05,.23,31.65,.18,32.25,.33,32.65,.37,33.15,.21,34.09,.37,34.91,.62,35.01,.37,36.71,.33,36.35,.18,34.25,2.66,31.05,6.61,31.65,6.79,32.11,6.78,32.85,6.8,31.35,6.61,30.65,6.32,31.65,6.45,31.55,6.2,32.15,6.2,32.45,6.16,30.55,6.05,30.75,5.91,30.65,5.72,31.05,5.6,31.45,5.74,31.95,5.78,32.45,5.83,32.65,5.7,31.55,5.54,32.05,5.49,32.45,5.49,32.85,5.45,31.35,5.29,31.85,5.21,32.35,5.29,32.85,5.25,31.65,5.04,32.05,5.04,33.15,5.04,33.65,5.25,33.85,5.52,33.85,5.12,34.25,5.08,33.05,4.75,33.35,4.92,34.05,4.79,31.65,4.63,32.01,4.67,31.95,4.42,32.49,4.5,32.89,4.42,33.47,4.57,34.05,4.32,34.45,4.32,34.85,4.34,35.05,4.26,35.55,4.42,35.95,4.46,34.95,4.63,33.25,4.02,33.81,4.02,34.39,3.94,35.15,4.13,35.55,4.02,35.25,3.88,33.09,3.76,33.85,3.64,34.19,3.45,36.33,3.53,36.95,6.02,34.61,5.2,35.15,5.33,35.61,5.45,35.31,5.06,35.35,5.84,36.21,5.73,33.45,6.36,33.85,6.3,34.55,6.57,34.95,6.49,35.15,6.4,34.75,6.86,35.35,6.61,35.65,6.82,35.95,6.86,36.05,6.57,36.25,6.36,35.75,6.3,36.55,6.73,37.05,6.4,37.35,6.86,37.25,6.69,38.37,6.36,36.21,7.41,36.59,7.26,36.91,7.11,35.35,9.3,35.35,9.13,36.49,9.3,36.05,8.97,36.45,9.03,35.65,9,34.95,8.98,34.05,8.92,34.79,8.8,33.99,8.68,35.15,8.68,35.95,8.68,34.45,8.59,35.55,8.55,34.95,8.43,35.75,8.32,36.25,8.32,36.15,8.18,34.35,8.3,34.85,8.18,34.75,7.97,35.19,7.77,37.75,8.26,38.09,7.87,39.57,8.1,39.13,9.75,41.59,8.58,40.75,7.63,41.39,7.73,41.05,7.59,41.01,7.34,40.29,6.8,40.51,6.54,42.29,9.07,43.05,9.21,43.25,9.45,43.61,9.21,42.91,9.89,43.19,8.72,43.05,8.59,43.55,8.43,42.35,8.3,42.27,8,43.95,6.38,42.69,6.18,42.95,5.99,44.11,5.97,43.31,5.76,43.65,5.7,43.69,5.58,44.85,5.7,44.45,5.62,44.35,5.45,43.95,5.29,45.15,6.49,45.65,5.66,45.25,5.54,45.7,5.43,45.15,5.29,44.55,5.25,44.75,5.16,45.05,5.12,44.35,4.96,44.85,4.92,44.05,4.83,44.55,4.75,42.69,4.64,43.95,4.57,43.19,4.4,44.39,4.4,44.71,4.34,46.94,4.9,46.94,4.69,46.44,4.11,46.84,4.05,47.88,4.07,44.98,3.69,45.28,3.67,45.28,3.45,46.4,3.59,46.4,3.35,46.74,3.1,47.2,3.28,44.85,2.97,49.44,4.59,47.48,2.85,48.26,2.97,49.74,2.89,50.98,2.81,47.92,1.05,46.3,.77,40.49,.7,44.15,.21,46.94,.45,46.48,.29,47.54,.29,48.24,.5,48.54,.41,48.98,.37,49.58,.31,48.04,.21,47.24,.17,49.24,.18,45.05,9.63,45.49,9.5,45.34,8.9,45.78,8.86,45.48,8.65,45.88,8.3,46.24,8.18,45.48,8.06,45.34,7.81,47.38,8.08,46.94,7.95,46.54,7.85,46.04,7.89,45.84,7.67,46.34,7.6,46.54,7.44,46.94,7.31,47.24,7.19,47.54,7.52,45.64,7.31,46.24,7.15,46.34,7.02,46,6.86,46.64,6.73,47.04,6.78,47.44,7.11,47.64,6.86,48.04,7.07,48.84,7.4,48.64,7.19,48.48,6.98,48.98,6.86,47.4,6.61,47.74,6.53,48.34,6.57,47.94,6.32,46.3,6.2,48.14,6.01,49.14,5.7,47.74,5.54,48.34,5.45,48.74,5.45,47.54,5.25,49.14,5.33,48.14,5.21,48.44,5.04,48.64,5.14,49.94,6.63,50.24,6.69,50.54,6.61,50.24,6.45,49.94,6.2,50.6,6.2,50.8,5.37,50.7,5.27,50.24,7.07,50.74,7.31,51.14,7.4,50.54,7.64,50.94,7.78,50.64,7.1,51.24,7.1,48.44,7.99,49.14,8.03,49.94,8.14,50.58,8.12,49.84,7.93,49.94,7.73,48.54,8.59,48.88,8.53,49.34,8.35,49.68,8.53,50.14,8.47,48.84,9.05,49.14,8.88,49.44,8.72,49.94,9,50.3,9.05,48.74,9.63,49.14,9.68,49.54,9.77,50.04,9.68,48.68,9.44,49.64,9.46,49.34,9.3,50.94,9.52,50.58,10.08,50.64,9.87,51.24,9.92];
const under50to80 = [52.09,9.67,52.19,9.34,52.59,9.34,51.99,9.25,52.49,9.21,52.69,9.05,53.05,9,52.39,8.97,53.83,9,53.29,9.67,53.59,9.67,53.89,9.59,53.09,9.54,54.69,9.13,54.79,8.91,52.83,8.74,53.39,8.69,53.19,8.55,53.89,8.59,54.29,8.76,54.49,8.59,54.09,8.47,54.35,8.24,51.83,7.92,52.69,7.93,53.03,7.89,53.39,7.71,54.43,7.87,51.69,7.52,52.15,7.35,51.59,7.19,54.53,7.11,56.45,9.82,55.03,9.64,55.39,9.59,56.79,9.54,56.99,9.34,57.29,9.71,57.79,9.63,58.29,9.42,58.35,9.71,58.59,9.79,58.89,9.87,57.89,9.87,57.49,9.79,58.19,9.34,58.39,9.17,58.69,9.02,58.95,8.92,57.69,8.74,56.65,8.51,59.15,8.68,58.99,8.53,58.75,8.45,57.23,8.04,56.99,7.87,58.83,7.4,59.19,7.31,56.09,7.02,59.35,7.02,59.69,6.86,60.09,6.69,57.15,6.8,58.29,6.65,59.53,6.61,60.03,6.47,55.65,6.53,57.99,6.49,58.39,6.45,58.99,6.45,57.95,6.2,58.69,6.32,58.95,5.93,59.39,5.93,57.19,5.88,56.79,5.73,59.73,5.4,59.33,5.25,59.19,5.14,59.79,5.23,59.29,4.94,59.69,4.82,59.39,4.69,58.73,4.54,59.13,4.38,59.55,4.4,59.49,4.3,55.25,4.44,57.29,3.91,58.85,3.88,54.89,3.59,57.39,3.59,57.75,3.59,59.23,3.55,55.25,3.25,55.93,3.26,59.65,3.31,57.49,3.07,53.09,2.2,57.59,2.4,57.83,2.22,55.45,1.94,55.47,1.26,53.29,.51,54.19,.85,54.39,.41,51.89,.33,52.29,.12,53.39,.25,53.79,.17,54.79,.23,55.79,.51,56.39,.45,56.09,.25,56.49,.12,56.99,.17,57.49,.21,57.99,.56,58.49,.33,58.99,.51,59.43,.5,59.09,.21,59.79,.12,57.99,.17,58.59,.12,60.12,.39,60.72,.37,61.19,.54,61.59,.29,61.98,.54,62.48,.83,62.98,.62,62.88,.41,62.28,.37,61.88,.74,64.02,.54,64.02,.41,64.48,.37,64.78,.29,63.38,.12,64.18,.15,61.19,.17,62.48,.17,59.88,2.71,60.04,2.77,60.04,2.44,60.39,2.34,60.44,2.11,64.12,2.91,64.48,2.87,62.38,2.35,62.82,2.16,63.58,2.25,63.88,2.35,64.28,2.35,64.48,2.23,64.82,2.23,65.18,2.27,63.48,2.15,63.34,1.98,62.08,1.94,61.69,1.73,62.58,1.73,63.18,1.69,62.78,1.57,63.18,1.53,62.98,1.4,63.22,1.32,61.78,1.42,60.42,1.53,60.48,1.36,60.98,1.32,61.28,1.24,60.28,1.16,60.78,1.16,61.48,1.12,61.58,.93,62.92,1.1,60.48,.81,60.88,.74,63.78,1.01,64.48,1.12,64.42,.74,64.82,1.39,65.48,1.92,65.62,1.75,65.48,1.45,65.18,.84,65.84,1.03,65.84,.62,66.28,.54,67.62,1.03,66.14,.33,66.78,.37,67.28,.41,67.78,.33,68.28,.23,68.78,.15,69.28,.08,69.82,.58,65.48,.17,66.78,.21,67.38,.17,70.62,.08,75.97,.22,66.72,9.63,67.28,9.38,67.68,9.21,67.38,9.05,68.18,9.06,68.62,9.15,69.14,9.15,69.52,9.43,68.78,9,68.38,8.83,67.78,8.88,66.12,9,68.24,8.49,67.18,8.29,67.94,8.22,67.48,8.04,63.18,8.4,62.78,8.2,60.88,7.56,61.62,7.56,62.28,7.56,61.98,7.44,62.38,7.35,65.78,7.96,66.22,7.92,65.42,7.71,66.78,7.79,66.94,7.6,66.52,7.45,65.74,7.23,66.08,7.23,66.48,7.15,65.88,7.06,67.28,6.98,68.64,7.25,66.28,6.87,65.62,6.86,65.98,6.69,64.82,6.61,65.38,6.53,65.08,6.4,67.78,6.78,68.32,6.69,67.78,6.53,69.48,6.77,66.58,6.22,66.94,6.1,64.44,6.17,65.28,6.16,65.88,6.05,65.38,5.91,65.08,5.88,64.68,5.83,64.28,5.8,65.54,5.8,64.82,5.56,64.38,5.33,64.18,5.16,66.24,5.37,65.84,5.16,65.12,5.21,68.7,5.44,64.58,4.92,64.62,4.75,65.04,4.85,65.48,4.67,66.38,4.77,68.26,4.79,64.24,4.5,63.78,4.36,63.88,4.2,64.28,4.09,64.68,4.07,64.94,4.2,60.94,5.21,60.38,5.15,60.74,4.98,60.28,4.78,61.46,3.98,61.18,3.4,70.38,6.88,70.68,6.76,70.94,6.78,71.18,9.19,70.04,5.78,70.08,4.83,72.18,4.98,77.37,9.54,77.23,8.74,78.45,8.3,79.87,7.37,80.03,7.27,79.53,7.21,80.23,7.02,79.31,6.84,79.63,6.57,79.31,6.36,79.07,5.95,78.87,5.88,78.47,5.87,79.61,5.45,79.97,5.49,78.67,1.16,78.83,1.16];
const under80to100 = [80.77,6.55,80.61,6.35,81.53,6.06,80.21,4.19,80.65,4.19,81.41,4.07,81.81,4.07,81.61,3.8,82.23,3.87,80.47,3.63,81.01,3.66,80.81,3.49,81.97,3.39,82.37,3.39,81.17,3.08,80.87,.17,81.07,.17,85.9,9.79,86.29,9.46,86.08,9.3,88.22,9.61,86.36,8.97,87.56,8.88,85.87,8.8,86.43,8.8,87.7,8.83,85.24,8.74,86.93,8.69,87.28,8.72,86.01,8.59,85.52,8.53,85.8,8.47,84.67,8.39,85.02,8.41,86.08,8.39,86.86,8.43,84.67,8.26,85.31,8.22,85.02,8.18,86.41,8.18,86.46,8.02,87.21,7.98,85,7.96,85.76,7.85,84.25,7.85,84.67,7.68,86.11,7.75,86.08,7.64,86.5,7.63,88.25,7.77,87.56,7.64,87.28,7.56,87.84,7.52,87.91,7.35,87.84,7.19,83.9,7.33,84.25,7.44,84.6,7.35,84.87,7.13,84.25,7.04,83.83,6.95,84.28,6.59,88.73,6.54,83.79,5.94,86.04,5.56,84.14,5.15,86.39,4.99,83.42,4.92,83.73,4.73,89.79,4.89,85.97,3.7,85.56,3.06,82.6,3.47,82.42,3.39,82.52,2.96,82.91,2.97,83.29,2.97,82.31,2.44,82.91,2.06,83.59,1.49,83.16,.34,91.08,8.78,91.93,8.07,92.38,7.52,92.06,7.02,92.15,4.79,90.9,4.21,90.99,.37,92,.23,92.94,.63,93.06,.41,96.24,.26,97.85,.37,97.28,.12,97.73,.15,98.2,.15,99.19,.73,99.07,.5,99.47,.39,99.89,.39,100.03,.23,99.61,.21,99.78,.12,99.75,.33,97.85,8.24,98.09,7.93,98.41,7.93,98.83,7.92,99.09,7.91,98.38,7.63,99.44,7.67,97.92,7.52,97.42,7.31,98.62,7.31,98.9,7.35,98.83,7.19,99.19,7.05,98.3,7.05,98.69,6.9,98.97,6.78,99.26,6.73,99.72,6.69,95.62,6.75,95.85,6.69,98.95,6.49,99.33,6.36,99.75,6.4,99.68,6.13,99.75,9.37,99.12,9.24,99.21,9.11,99.58,8.92,99.83,8.55,99.5,8.41,99.89,8.13,97.96,5.78,98.03,5.65,98.34,5.28,99.65,5.06,99.28,4.72,98.51,4.59,98.97,4.11,99.5,2.45,99.61,2.31,98.3,1.4,98.48,1.21,98.69,1.09,89.91,.16];
// returns lying on the ground, distance only
const groundX = [8,8.4,8.7,8.94,9.3,9.8,10.1,10.7,11.46,12.14,12.7,13.06,13.9,14.62,15.3,15.6,15.9,16.2,16.4,16.9,18.3,18.8,19,19.3,19.45,19.6,19.75,19.9,20.2,20.5,26.86,27.26,27.99,28.65,29.15,29.45,29.85,31.15,31.45,31.75,32.05,32.45,32.85,33.25,33.65,34.05,34.35,34.75,35.05,35.75,36.05,39.55,40,43.75,44.05,44.55,44.95,45.25,45.75,46.05,46.55,46.85,47.25,47.55,47.85,48.25,48.75,49.05,49.45,49.95,50.3,51.69,53.29,53.59,53.89,54.19,54.69,55.19,55.59,55.99,56.39,56.99,57.39,57.79,58.19,58.59,58.99,59.39,59.79,60.39,60.79,61.19,61.79,62.59,63.39,63.79,64.19,65.48,66.08,67.38,68.38,68.98,69.58,70.18,70.48,76.17,76.37,80.47,82.67,82.77,83.59,85.39,85.8,87.56,89.6,90.73,91.34,91.65,94.68,95.66,96.02,98.27,98.76,99.12,99.4,99.75];
const groundHeight = -0.03;

const axisGrey = '#8c8c8c';
const labelFont = 'Lato, Carlito, sans-serif';

function toPoints(flat) {
    const out = [];
    for (let i = 0; i < flat.length; i += 2) out.push({ x: flat[i], y: flat[i + 1] });
    return out;
}

// cells under 8 stay white, above that grey darkens with cover
function coverShade(v) {
    if (v < 8) return '#ffffff';
    const g = Math.round(Math.min(216, 214 - (v - 10) * 1.436));
    return `rgb(${g},${g},${g})`;
}

// points in the original are a bit wider than tall
function makeDot() {
    const c = document.createElement('canvas');
    c.width = 16;
    c.height = 13;
    const g = c.getContext('2d');
    g.fillStyle = '#000';
    g.beginPath();
    g.ellipse(8, 6.5, 8, 6.5, 0, 0, Math.PI * 2);
    g.fill();
    return c;
}

const allPoints = [over0to20, mid0to20, under0to20, over20to42, over42to55, mid20to50, mid50to70, over67to80, over80to90, mid67to85, mid85to100, over90to100, under20to50, under50to80, under80to100]
    .flatMap(toPoints)
    .concat(groundX.map(x => ({ x: x, y: groundHeight })));

const datasets = [{
    type: 'scatter',
    data: allPoints,
    pointStyle: makeDot(),
    pointRadius: 8,
    clip: false,
    order: 0
}];
coverRows.forEach((row, r) => {
    const bottom = 9 - r;
    datasets.push({
        type: 'bar',
        data: segmentCentres.map(c => ({ x: c, y: [bottom, bottom + 1] })),
        backgroundColor: row.map(coverShade),
        borderWidth: 0,
        barPercentage: 1,
        categoryPercentage: 1,
        grouped: false,
        order: 1
    });
});

// lines and texts go above the cells but below the points
const overlay = {
    id: 'overlay',
    beforeDatasetDraw(chart, args) {
        if (args.meta.type !== 'scatter') return;
        const ctx = chart.ctx, x = chart.scales.x, y = chart.scales.y;
        const y0 = y.getPixelForValue(0), yTop = y.getPixelForValue(28);
        ctx.save();

        ctx.strokeStyle = axisGrey;
        ctx.lineWidth = 2.5;
        for (let m = 1; m < 100; m++) {
            ctx.beginPath();
            ctx.moveTo(x.getPixelForValue(m), y0);
            ctx.lineTo(x.getPixelForValue(m), y0 - 8);
            ctx.stroke();
        }
        ctx.lineWidth = 4.5;
        xTicks.forEach(t => {
            ctx.beginPath();
            ctx.moveTo(x.getPixelForValue(t), yTop);
            ctx.lineTo(x.getPixelForValue(t), y0 + 10);
            ctx.stroke();
        });
        ctx.beginPath();
        ctx.moveTo(x.getPixelForValue(0), y0);
        ctx.lineTo(x.getPixelForValue(100), y0);
        ctx.stroke();

        ctx.strokeStyle = '#000';
        ctx.lineWidth = 2.5;
        layerBounds.forEach(h => {
            const p = y.getPixelForValue(h);
            ctx.beginPath();
            ctx.moveTo(x.getPixelForValue(0), p);
            ctx.lineTo(x.getPixelForValue(100), p);
            ctx.stroke();
        });
        layerBounds.concat([0]).forEach(h => {
            const p = y.getPixelForValue(h);
            ctx.beginPath();
            ctx.moveTo(40, p);
            ctx.lineTo(202, p);
            ctx.stroke();
        });

        ctx.fillStyle = '#000';
        ctx.textBaseline = 'middle';
        ctx.textAlign = 'center';
        ctx.font = `33px ${labelFont}`;
        coverRows.forEach((row, r) => {
            row.forEach((v, i) => {
                ctx.fillText(String(v), x.getPixelForValue(segmentCentres[i]), y.getPixelForValue(9.4 - r));
            });
        });

        ctx.font = `bold 30px ${labelFont}`;
        layerCounts.forEach((v, i) => {
            ctx.fillText(v, x.getPixelForValue(segmentCentres[i]), y.getPixelForValue(28.32));
        });
        ctx.font = `bold 33px ${labelFont}`;
        ctx.fillText('Distance (m)', x.getPixelForValue(51.75), 1563);

        ctx.textAlign = 'left';
        ctx.fillText('Layers', 48, y.getPixelForValue(28.32));
        groupNames.forEach((name, i) => ctx.fillText(name, 48, y.getPixelForValue(groupHeights[i])));
        ctx.restore();
    }
};

new Chart(document.getElementById('chart'), {
    data: { datasets: datasets },
    plugins: [overlay],
    options: {
        responsive: false,
        animation: false,
        events: [],
        layout: { padding: { top: 83, right: 54, left: 0, bottom: 0 } },
        plugins: { legend: { display: false }, tooltip: { enabled: false } },
        scales: {
            x: {
                type: 'linear',
                min: 0,
                max: 100,
                offset: false,
                afterFit(scale) { scale.height = 115; },
                ticks: { stepSize: 10, padding: 12, maxRotation: 0, color: '#000', font: { family: labelFont, size: 29, weight: 'bold' } },
                grid: { drawOnChartArea: false, drawTicks: true, tickLength: 10, tickWidth: 4.5, tickColor: axisGrey },
                border: { display: false }
            },
            y: {
                type: 'linear',
                min: 0,
                max: 28,
                afterFit(scale) { scale.width = 360; },
                ticks: { stepSize: 1, padding: 18, autoSkip: false, color: '#000', font: { family: labelFont, size: 29, weight: 'bold' } },
                grid: { drawOnChartArea: false, drawTicks: true, tickLength: 12, tickWidth: 4.5, tickColor: axisGrey },
                border: { color: axisGrey, width: 4.5 }
            }
        }
    }
});
</script>
</body>
</html>
